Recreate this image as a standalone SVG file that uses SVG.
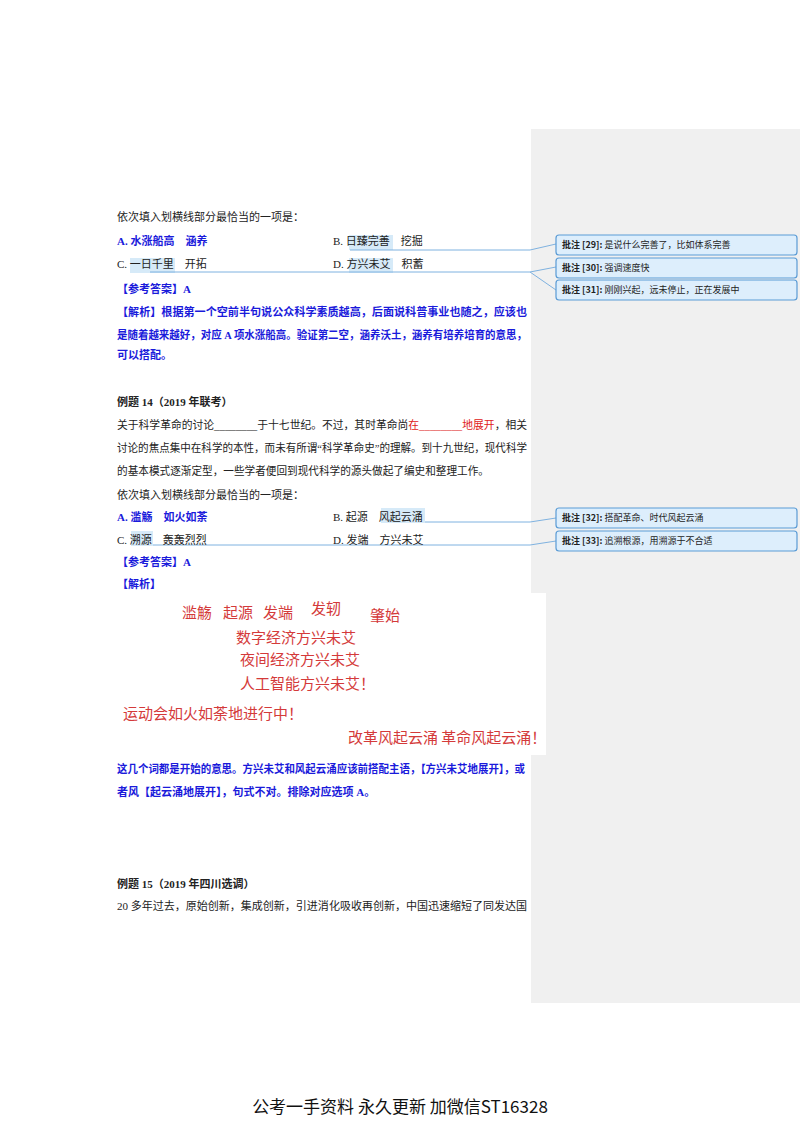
<svg xmlns="http://www.w3.org/2000/svg" width="800" height="1132" viewBox="0 0 800 1132">
<style>
text{font-family:"Liberation Serif","Noto Sans CJK SC",serif;font-size:11px;fill:#222}
.b{fill:#1a1adb;font-weight:bold}
.h{font-weight:bold}
.r{fill:#e02020}
.hl{fill:#d6eaf8}
.red{font-family:"Noto Sans CJK SC",sans-serif;font-size:15px;fill:#d43a3a}
.cb{fill:#ddeefc;stroke:#5a9bd5;stroke-width:1.2}
.ct{font-family:"Noto Sans CJK SC",sans-serif;font-size:9px;fill:#222}
.cn{stroke:#7fb2e0;stroke-width:1;fill:none}
</style>
<rect width="800" height="1132" fill="#fff"/>
<rect x="531" y="129" width="269" height="874" fill="#f0f0f0"/>
<rect x="112" y="593" width="434" height="162" fill="#fff"/>
<g id="highlights">
<rect class="hl" x="349" y="235" width="44" height="15"/>
<rect class="hl" x="130" y="258" width="45" height="15"/>
<rect class="hl" x="349" y="258" width="44" height="15"/>
<rect class="hl" x="381" y="508" width="44" height="15"/>
<rect class="hl" x="131" y="531" width="22" height="15"/>
</g>
<g id="connectors">
<path class="cn" d="M350 250 H530 L556 244"/>
<path class="cn" d="M150 272 H530 L556 267"/>
<path class="cn" d="M530 272 L556 290"/>
<path class="cn" d="M425 522 H530 L556 518"/>
<path class="cn" d="M153 545 H530 L556 541"/>
</g>
<g id="text1">
<text x="117" y="221">依次填入划横线部分最恰当的一项是：</text>
<text class="b" x="117" y="245">A. 水涨船高　涵养</text>
<text x="333" y="245">B. 日臻完善　挖掘</text>
<text x="117" y="268">C. 一日千里　开拓</text>
<text x="333" y="268">D. 方兴未艾　积蓄</text>
<text class="b" x="117" y="293">【参考答案】A</text>
<text class="b" x="117" y="316" textLength="410" lengthAdjust="spacingAndGlyphs">【解析】根据第一个空前半句说公众科学素质越高，后面说科普事业也随之，应该也</text>
<text class="b" x="117" y="339" textLength="410" lengthAdjust="spacingAndGlyphs">是随着越来越好，对应 A 项水涨船高。验证第二空，涵养沃土，涵养有培养培育的意思，</text>
<text class="b" x="117" y="359">可以搭配。</text>
</g>
<g id="text2">
<text class="h" x="117" y="406">例题 14（2019 年联考）</text>
<text x="117" y="429" textLength="410" lengthAdjust="spacingAndGlyphs">关于科学革命的讨论________于十七世纪。不过，其时革命尚<tspan class="r">在________地展开</tspan>，相关</text>
<text x="117" y="452" textLength="410" lengthAdjust="spacingAndGlyphs">讨论的焦点集中在科学的本性，而未有所谓“科学革命史”的理解。到十九世纪，现代科学</text>
<text x="117" y="475" textLength="372" lengthAdjust="spacingAndGlyphs">的基本模式逐渐定型，一些学者便回到现代科学的源头做起了编史和整理工作。</text>
<text x="117" y="499">依次填入划横线部分最恰当的一项是：</text>
<text class="b" x="117" y="521">A. 滥觞　如火如荼</text>
<text x="333" y="521">B. 起源　风起云涌</text>
<text x="117" y="544">C. 溯源　轰轰烈烈</text>
<text x="333" y="544">D. 发端　方兴未艾</text>
<text class="b" x="117" y="566">【参考答案】A</text>
<text class="b" x="117" y="588">【解析】</text>
</g>
<g id="image-text">
<text class="red" x="182" y="618">滥觞</text>
<text class="red" x="223" y="618">起源</text>
<text class="red" x="263" y="618">发端</text>
<text class="red" x="311" y="614">发轫</text>
<text class="red" x="370" y="621">肇始</text>
<text class="red" x="236" y="643">数字经济方兴未艾</text>
<text class="red" x="240" y="665">夜间经济方兴未艾</text>
<text class="red" x="240" y="689">人工智能方兴未艾！</text>
<text class="red" x="123" y="719">运动会如火如荼地进行中！</text>
<text class="red" x="348" y="743">改革风起云涌 革命风起云涌！</text>
</g>
<g id="text3">
<text class="b" x="117" y="773" textLength="408" lengthAdjust="spacingAndGlyphs">这几个词都是开始的意思。方兴未艾和风起云涌应该前搭配主语，【方兴未艾地展开】，或</text>
<text class="b" x="117" y="796">者风【起云涌地展开】，句式不对。排除对应选项 A。</text>
<text class="h" x="117" y="888">例题 15（2019 年四川选调）</text>
<text x="117" y="910" textLength="410" lengthAdjust="spacingAndGlyphs">20 多年过去，原始创新，集成创新，引进消化吸收再创新，中国迅速缩短了同发达国</text>
</g>
<g id="c29"><rect class="cb" x="556" y="235" width="241" height="20" rx="3"/><text class="ct" x="562" y="248"><tspan font-weight="bold">批注 [29]:</tspan> 是说什么完善了，比如体系完善</text></g>
<g id="c30"><rect class="cb" x="556" y="258" width="241" height="20" rx="3"/><text class="ct" x="562" y="271"><tspan font-weight="bold">批注 [30]:</tspan> 强调速度快</text></g>
<g id="c31"><rect class="cb" x="556" y="280" width="241" height="20" rx="3"/><text class="ct" x="562" y="293"><tspan font-weight="bold">批注 [31]:</tspan> 刚刚兴起，远未停止，正在发展中</text></g>
<g id="c32"><rect class="cb" x="556" y="508" width="241" height="20" rx="3"/><text class="ct" x="562" y="521"><tspan font-weight="bold">批注 [32]:</tspan> 搭配革命、时代风起云涌</text></g>
<g id="c33"><rect class="cb" x="556" y="531" width="241" height="20" rx="3"/><text class="ct" x="562" y="544"><tspan font-weight="bold">批注 [33]:</tspan> 追溯根源，用溯源于不合适</text></g>
<text x="400" y="1113" text-anchor="middle" style="font-family:'Noto Sans CJK SC',sans-serif;font-size:17px;fill:#111">公考一手资料 永久更新 加微信ST16328</text>
</svg>
